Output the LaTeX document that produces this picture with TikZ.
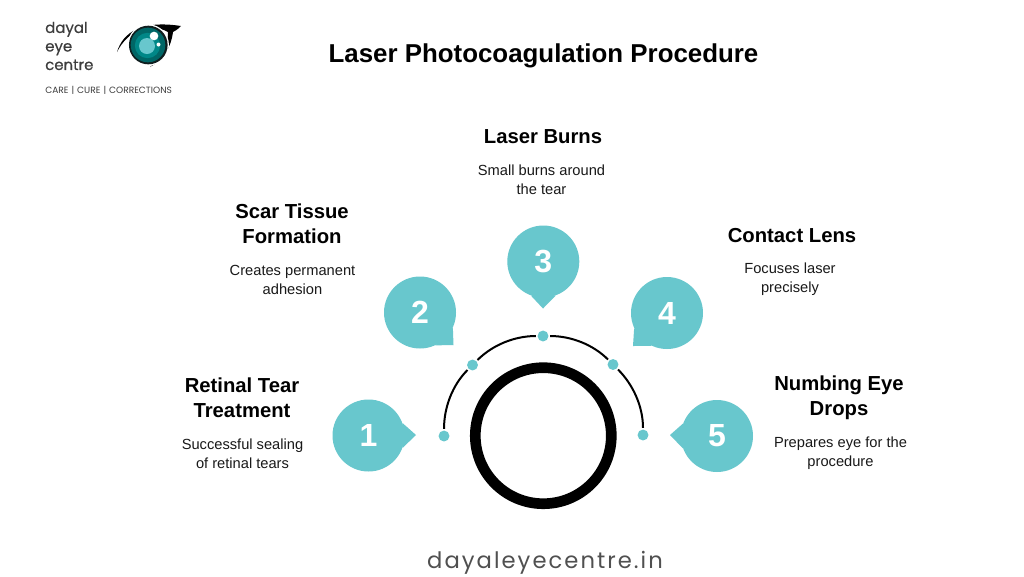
\documentclass[tikz,border=0pt]{standalone}
\usepackage{fontspec}
\setmainfont{Liberation Sans}
\newfontfamily\logofont{Poppins}
\newfontfamily\logobold[FakeBold=0.5]{Poppins}
\newfontfamily\footfont[LetterSpace=9]{Poppins}
\usetikzlibrary{calc}
\definecolor{teal1}{HTML}{68C7CD}
\definecolor{ink}{HTML}{3D3D3D}
\tikzset{
  x=0.75pt,y=-0.75pt,
  bubble/.style={circle,fill=teal1,minimum size=54pt,inner sep=0pt,text=white,font=\fontsize{24}{24}\selectfont\bfseries},
  tipfill/.style={fill=teal1,draw=none},
  dotn/.style={circle,fill=teal1,minimum size=8.2pt,inner sep=0pt},
  head/.style={align=center,text=black,font=\fontsize{15.2}{18.7}\selectfont\bfseries,inner sep=0pt},
  body/.style={align=center,text=black!90,font=\fontsize{11}{14.3}\selectfont,inner sep=0pt},
  arcline/.style={draw=black,line width=1.5pt,shorten >=1pt,shorten <=1pt,looseness=0.885},
}
\begin{document}
\begin{tikzpicture}
\useasboundingbox (0,0) rectangle (1024,576);
\fill[white] (0,0) rectangle (1024,576);
% ring
\node[circle,draw=black,line width=8pt,minimum size=102pt,inner sep=0pt] (ring) at (543.3,435.7) {};
% dots
\node[dotn] (d1) at (444,436) {};
\node[dotn] (d2) at (472.5,365) {};
\node[dotn] (d3) at (543,336) {};
\node[dotn] (d4) at (613,364.5) {};
\node[dotn] (d5) at (643,435) {};
\draw[arcline] (d1) to[out=90,in=-135] (d2);
\draw[arcline] (d2) to[out=45,in=180] (d3);
\draw[arcline] (d3) to[out=0,in=135] (d4);
\draw[arcline] (d4) to[out=-45,in=90] (d5);
% bubbles
\coordinate (t1) at (416,435);
\coordinate (t2) at (453.5,345);
\coordinate (t3) at (543,308.5);
\coordinate (t4) at (633,346);
\coordinate (t5) at (670,435);
\node[bubble] (b1) at (368.5,435.5) {};
\node[bubble] (b2) at (420,312.5) {};
\node[bubble] (b3) at (543.3,261.5) {};
\node[bubble] (b4) at (667,313) {};
\node[bubble] (b5) at (717,436) {};
\fill[tipfill] (t1) -- (b1.-20) -- (b1.20) -- cycle;
\fill[tipfill] (t2) -- (b2.-25) -- (b2.-65) -- cycle;
\fill[tipfill] (t3) -- (b3.-110) -- (b3.-70) -- cycle;
\fill[tipfill] (t4) -- (b4.-115) -- (b4.-155) -- cycle;
\fill[tipfill] (t5) -- (b5.160) -- (b5.200) -- cycle;
\node[bubble,fill=none] at (b1) {1};
\node[bubble,fill=none] at (b2) {2};
\node[bubble,fill=none] at (b3) {3};
\node[bubble,fill=none] at (b4) {4};
\node[bubble,fill=none] at (b5) {5};
% texts
\node[head] (h1) at (242,398) {Retinal Tear\\Treatment};
\node[body] (p1) at (242.5,453.5) {Successful sealing\\of retinal tears};
\node[head] (h2) at (292,224) {Scar Tissue\\Formation};
\node[body] (p2) at (292.5,279.5) {Creates permanent\\adhesion};
\node[head] (h3) at (543,137) {Laser Burns};
\node[body] (p3) at (541.5,180) {Small burns around\\the tear};
\node[head] (h4) at (792,236) {Contact Lens};
\node[body] (p4) at (790,279.5) {Focuses laser\\precisely};
\node[head] (h5) at (839,398) {Numbing Eye\\Drops};
\node[body] (p5) at (840.5,453.5) {Prepares eye for the\\procedure};
\node[inner sep=0pt,font=\fontsize{19.4}{20}\selectfont\bfseries] (title) at (543.5,56) {Laser Photocoagulation Procedure};
\node[inner sep=0pt,text=ink!90,font=\footfont\fontsize{17}{20}\selectfont] (foot) at (545,563) {dayaleyecentre.in};
% logo text
\node[anchor=west,align=left,inner sep=0pt,text=ink,font=\logobold\fontsize{11.2}{13.9}\selectfont] (logo) at (45,46) {dayal\\eye\\centre};
\node[anchor=west,inner sep=0pt,text=ink,font=\logofont\fontsize{6.8}{8}\selectfont] (tag) at (45,90.5) {CARE\,\,|\,\,CURE\,\,|\,\,CORRECTIONS};
% eye
\fill[black] (117,52) .. controls (123,32) and (142,20) .. (181,26) .. controls (177,30) and (175,31) .. (173,32) .. controls (171,48) and (163,60) .. (150,67) .. controls (162,58) and (168,46) .. (168,32) .. controls (150,22) and (128,30) .. (117,52) -- cycle;
\node[circle,fill=white,minimum size=31pt,inner sep=0pt] (eye0) at (148.3,45) {};
\node[circle,fill=black!85!teal1,minimum size=29pt,inner sep=0pt] (eye1) at (148.3,45) {};
\node[circle,fill=teal!80!black,minimum size=26pt,inner sep=0pt] (eye2) at (148,45) {};
\node[circle,fill=teal!75!cyan!85!black,minimum size=19pt,inner sep=0pt] (eye3) at (147.5,45.5) {};
\node[circle,fill=teal1,minimum size=12pt,inner sep=0pt] (eye4) at (147,46) {};
\node[circle,fill=white,minimum size=6.5pt,inner sep=0pt] (eye5) at (154,36) {};
\node[circle,fill=white,minimum size=3pt,inner sep=0pt] (eye6) at (158.5,44.5) {};
\end{tikzpicture}
\end{document}
